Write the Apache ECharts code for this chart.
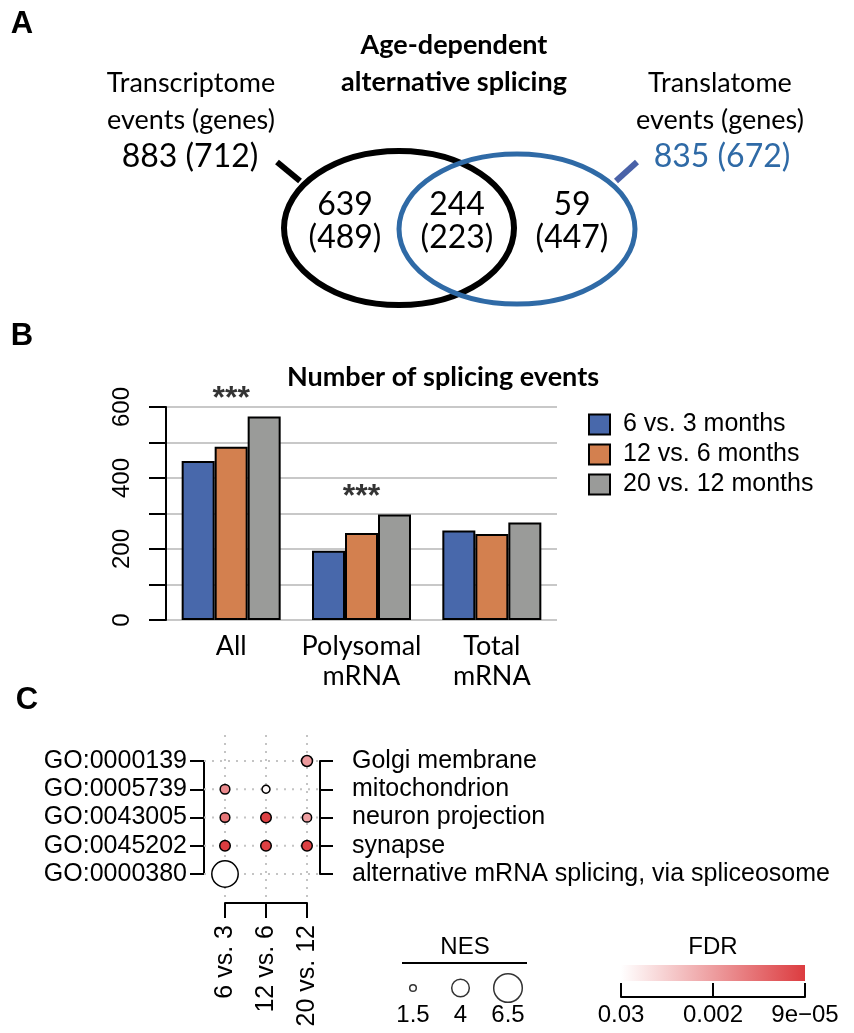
<!DOCTYPE html>
<html>
<head>
<meta charset="utf-8">
<script src="https://cdn.jsdelivr.net/npm/echarts@6/dist/echarts.min.js"></script>
<style>
  html, body { margin: 0; padding: 0; background: #fff; }
  #main { width: 854px; height: 1033px; }
</style>
</head>
<body>
<div id="main"></div>
<script>
// ---- panel A: Venn counts
const vennSets = ['Transcriptome\nevents (genes)', 'Translatome\nevents (genes)'];
const setEvents = [883, 835];
const setGenes = [712, 672];
const regionEvents = [639, 244, 59];
const regionGenes = [489, 223, 447];

// ---- panel B: number of splicing events
const groups = ['All', 'Polysomal\nmRNA', 'Total\nmRNA'];
const comparisons = ['6 vs. 3 months', '12 vs. 6 months', '20 vs. 12 months'];
const events6v3 = [448, 195, 252];
const events12v6 = [488, 245, 242];
const events20v12 = [573, 297, 275];
const significance = ['***', '***', ''];
const barColors = ['#4868ab', '#d3804f', '#9a9b99'];

// ---- panel C: GO enrichment
const goIds = ['GO:0000139', 'GO:0005739', 'GO:0043005', 'GO:0045202', 'GO:0000380'];
const goTerms = ['Golgi membrane', 'mitochondrion', 'neuron projection', 'synapse',
  'alternative mRNA splicing, via spliceosome'];
const contrasts = ['6 vs. 3', '12 vs. 6', '20 vs. 12'];
const nes6v3 = [null, 2.2, 2.2, 2.4, 6.0];
const nes12v6 = [null, 1.8, 2.4, 2.4, null];
const nes20v12 = [2.5, null, 2.1, 2.4, null];
const fdr6v3 = [null, 0.0009, 0.0005, 0.00009, 0.03];
const fdr12v6 = [null, 0.025, 0.0001, 0.0001, null];
const fdr20v12 = [0.0015, null, 0.0017, 0.0001, null];
const nesLegend = [1.5, 4, 6.5];
const fdrTicks = ['0.03', '0.002', '9e\u221205'];
const fdrRange = [0.03, 0.00009];
const fdrColors = ['#ffffff', '#dc3c40'];

const SANS = '"Liberation Sans", Arial, sans-serif';
const CAL = 'Lato, "Open Sans", sans-serif';

// dot plot layout (pixel positions of first/last column and row)
const cx0 = 225, cx1 = 307, ry0 = 761, ry1 = 874;
const axL = 204, axR = 320, axB = 903, gridTop = 735;
const colStep = (cx1 - cx0) / (contrasts.length - 1);
const rowStep = (ry1 - ry0) / (goIds.length - 1);

const nesCols = [nes6v3, nes12v6, nes20v12];
const fdrCols = [fdr6v3, fdr12v6, fdr20v12];
const dots = [];
nesCols.forEach(function (col, j) {
  col.forEach(function (v, i) {
    if (v != null) dots.push([j, i, v, -Math.log10(fdrCols[j][i])]);
  });
});

const sigData = groups.map(function (g, i) {
  return [i, Math.max(events6v3[i], events12v6[i], events20v12[i])];
});

// dotted guide lines of the dot plot
const guideSeries = [];
const xMin = (axL - cx0) / colStep, xMax = (contrasts.length - 1) + (axR - cx1) / colStep;
const yMin = (gridTop - ry0) / rowStep, yMax = (goIds.length - 1) + (axB - ry1) / rowStep;
goIds.forEach(function (g, i) {
  guideSeries.push({ data: [[xMin, i], [xMax, i]] });
});
contrasts.forEach(function (c, j) {
  guideSeries.push({ data: [[j, yMin], [j, yMax]] });
});

function txt(x, y, text, font, fill, align) {
  return {
    type: 'text', x: x, y: y,
    style: { text: text, font: font, fill: fill || '#000',
      textAlign: align || 'center', align: align || 'center',
      textVerticalAlign: 'middle', verticalAlign: 'middle' }
  };
}

const blue = '#2f6aa6';
const graphics = [
  txt(22, 24, 'A', 'bold 31px ' + SANS),
  txt(22, 336, 'B', 'bold 31px ' + SANS),
  txt(27, 700, 'C', 'bold 31px ' + SANS),
  // panel A
  txt(454, 45, 'Age-dependent', 'bold 27px ' + CAL),
  txt(454, 82, 'alternative splicing', 'bold 27px ' + CAL),
  txt(191, 83, vennSets[0].split('\n')[0], '27px ' + CAL),
  txt(191, 120, vennSets[0].split('\n')[1], '27px ' + CAL),
  txt(190, 157, setEvents[0] + ' (' + setGenes[0] + ')', '32px ' + CAL),
  txt(720, 83, vennSets[1].split('\n')[0], '27px ' + CAL),
  txt(720, 120, vennSets[1].split('\n')[1], '27px ' + CAL),
  txt(722, 157, setEvents[1] + ' (' + setGenes[1] + ')', '32px ' + CAL, blue),
  { type: 'ellipse', shape: { cx: 399, cy: 228, rx: 115, ry: 77 },
    style: { fill: 'none', stroke: '#000', lineWidth: 6 } },
  { type: 'ellipse', shape: { cx: 517, cy: 229, rx: 118, ry: 75 },
    style: { fill: 'none', stroke: blue, lineWidth: 5 } },
  { type: 'line', shape: { x1: 277, y1: 162, x2: 300, y2: 181 },
    style: { stroke: '#000', lineWidth: 6 } },
  { type: 'line', shape: { x1: 637, y1: 162, x2: 616, y2: 181 },
    style: { stroke: '#4a62a8', lineWidth: 6 } },
  txt(345, 205, String(regionEvents[0]), '32px ' + CAL),
  txt(345, 238, '(' + regionGenes[0] + ')', '32px ' + CAL),
  txt(457, 205, String(regionEvents[1]), '32px ' + CAL),
  txt(457, 238, '(' + regionGenes[1] + ')', '32px ' + CAL),
  txt(572, 205, String(regionEvents[2]), '32px ' + CAL),
  txt(572, 238, '(' + regionGenes[2] + ')', '32px ' + CAL),
  // panel B title
  txt(443, 377, 'Number of splicing events', 'bold 27px ' + CAL),
  // panel C legends
  txt(465, 947, 'NES', '24px ' + SANS),
  { type: 'line', shape: { x1: 402, y1: 963, x2: 527, y2: 963 },
    style: { stroke: '#000', lineWidth: 2 } },
  txt(713, 947, 'FDR', '24px ' + SANS),
  { type: 'rect', shape: { x: 621, y: 965, width: 184, height: 16 },
    style: { fill: { type: 'linear', x: 0, y: 0, x2: 1, y2: 0,
      colorStops: [{ offset: 0, color: fdrColors[0] }, { offset: 1, color: fdrColors[1] }] } } }
];

const chart = echarts.init(document.getElementById('main'));

const series = [];
[events6v3, events12v6, events20v12].forEach(function (vals, k) {
  series.push({
    name: comparisons[k], type: 'bar', xAxisIndex: 0, yAxisIndex: 0,
    data: vals, barWidth: 33, barGap: '0%',
    itemStyle: { color: barColors[k], borderColor: '#000', borderWidth: 2 }
  });
});
series.push({
  type: 'scatter', xAxisIndex: 0, yAxisIndex: 0, data: sigData,
  symbolSize: 1, itemStyle: { color: 'rgba(0,0,0,0)' }, silent: true, z: 6,
  label: { show: true, position: 'inside', offset: [0, -17],
    formatter: function (p) { return significance[p.dataIndex]; },
    fontFamily: SANS, fontWeight: 'bold', fontSize: 32, color: '#000' }
});
series.push({
  type: 'scatter', xAxisIndex: 1, yAxisIndex: 1, data: dots, clip: false, z: 5,
  symbolSize: function (d) { return d[2] * 4.4; },
  itemStyle: { borderColor: '#000', borderWidth: 1.5, opacity: 1 }
});
series.push({
  type: 'scatter', xAxisIndex: 3, yAxisIndex: 4, clip: false,
  data: nesLegend.map(function (v, i) { return [i, 1, v]; }),
  symbolSize: function (d) { return d[2] * 4.4; },
  itemStyle: { color: '#fff', borderColor: '#000', borderWidth: 1.5 }
});
guideSeries.forEach(function (g) {
  series.push({
    type: 'line', xAxisIndex: 2, yAxisIndex: 3, data: g.data, symbol: 'none',
    silent: true, z: 1,
    lineStyle: { color: '#c4c4c4', width: 2, type: [2, 6] }
  });
});

const blackLine = { show: true, lineStyle: { color: '#000', width: 2 } };

chart.setOption({
  animation: false,
  textStyle: { fontFamily: SANS },
  graphic: graphics,
  legend: {
    data: comparisons, orient: 'vertical', left: 583, top: 407,
    itemWidth: 21, itemHeight: 20, itemGap: 5, icon: 'rect',
    itemStyle: { borderColor: '#000', borderWidth: 2 },
    textStyle: { fontFamily: SANS, fontSize: 25, color: '#000', padding: [0, 0, 0, 8] }
  },
  visualMap: [{
    type: 'continuous', show: false, seriesIndex: 4, dimension: 3,
    min: -Math.log10(fdrRange[0]), max: -Math.log10(fdrRange[1]),
    inRange: { color: fdrColors }
  }],
  grid: [
    { left: 166, top: 407, width: 391, height: 213 },
    { left: cx0, top: ry0, width: cx1 - cx0, height: ry1 - ry0 },
    { left: axL, top: gridTop, width: axR - axL, height: axB - gridTop },
    { left: 413, top: 978, width: 95, height: 20 },
    { left: 621, top: 965, width: 184, height: 32 }
  ],
  xAxis: [
    { type: 'category', gridIndex: 0, data: groups,
      axisLine: { show: false }, axisTick: { show: false },
      axisLabel: { interval: 0, fontFamily: CAL, fontSize: 27, lineHeight: 30, color: '#000', margin: 11 } },
    { type: 'category', gridIndex: 1, data: contrasts, boundaryGap: false,
      position: 'bottom', offset: axB - ry1,
      axisLine: blackLine,
      axisTick: { show: true, interval: 0, length: 15, lineStyle: { color: '#000', width: 2 } },
      axisLabel: { interval: 0, rotate: 90, margin: 22, fontSize: 25, color: '#000', fontFamily: SANS },
      splitLine: { show: false } },
    { type: 'value', gridIndex: 2, min: xMin, max: xMax, show: false },
    { type: 'category', gridIndex: 3, data: nesLegend.map(String), boundaryGap: false,
      axisLine: { show: false }, axisTick: { show: false },
      axisLabel: { interval: 0, margin: 5, fontSize: 24, color: '#000', fontFamily: SANS } },
    { type: 'value', gridIndex: 4, min: 0, max: 2, interval: 1,
      axisLine: blackLine,
      axisTick: { show: true, inside: true, length: 14, lineStyle: { color: '#000', width: 2 } },
      axisLabel: { margin: 6, fontSize: 24, color: '#000', fontFamily: SANS,
        formatter: function (v) { return fdrTicks[Math.round(v)]; } },
      splitLine: { show: false } }
  ],
  yAxis: [
    { type: 'value', gridIndex: 0, min: 0, max: 600, interval: 100,
      axisLine: blackLine,
      axisTick: { show: true, length: 17, lineStyle: { color: '#000', width: 2 } },
      axisLabel: { rotate: 90, margin: 32, fontSize: 24, color: '#000', fontFamily: SANS,
        formatter: function (v) { return v % 200 === 0 ? String(v) : ''; } },
      splitLine: { lineStyle: { color: '#c8c8c8', width: 2 } } },
    { type: 'category', gridIndex: 1, data: goIds, inverse: true, boundaryGap: false,
      position: 'left', offset: cx0 - axL,
      axisLine: blackLine,
      axisTick: { show: true, interval: 0, length: 14, lineStyle: { color: '#000', width: 2 } },
      axisLabel: { interval: 0, margin: 17, fontSize: 25, color: '#000', fontFamily: SANS },
      splitLine: { show: false } },
    { type: 'category', gridIndex: 1, data: goTerms, inverse: true, boundaryGap: false,
      position: 'right', offset: axR - cx1,
      axisLine: blackLine,
      axisTick: { show: true, interval: 0, length: 13, lineStyle: { color: '#000', width: 2 } },
      axisLabel: { interval: 0, margin: 32, fontSize: 25, color: '#000', fontFamily: SANS },
      splitLine: { show: false } },
    { type: 'value', gridIndex: 2, min: yMin, max: yMax, inverse: true, show: false },
    { type: 'value', gridIndex: 3, min: 0, max: 2, show: false },
    { type: 'value', gridIndex: 4, min: 0, max: 1, show: false }
  ],
  series: series
});
</script>
</body>
</html>
